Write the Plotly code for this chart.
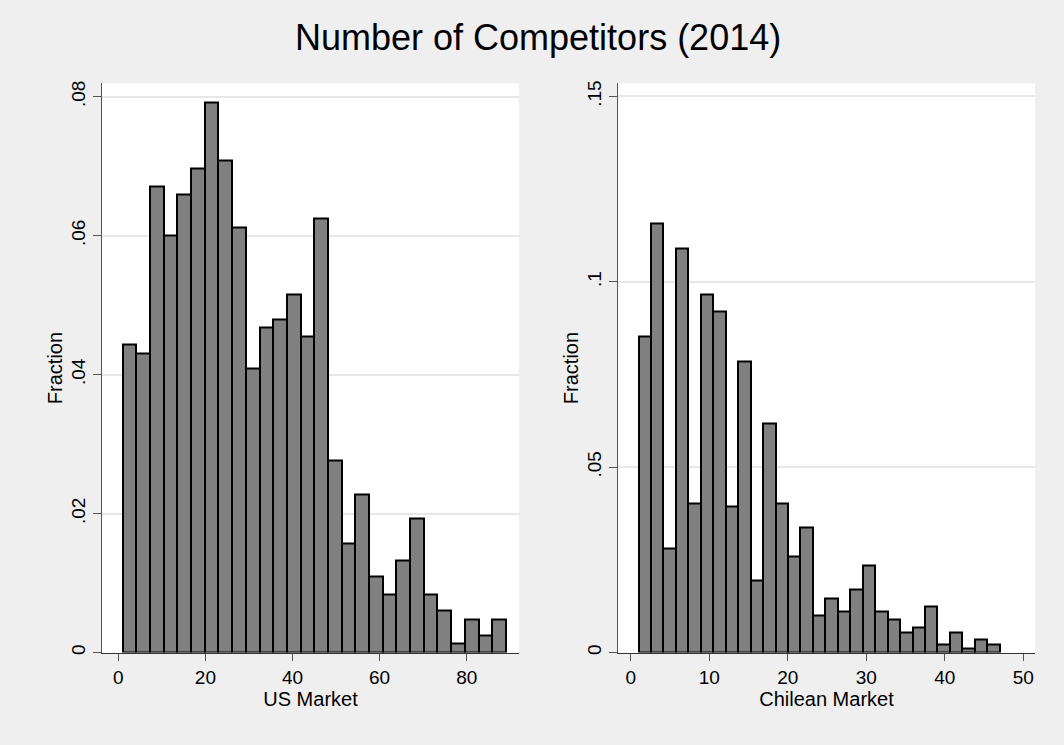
import plotly.graph_objects as go

# Histogram bins: number of competitors, fraction of markets per bin
us_bin_start = 1.0
us_bin_width = 88.0 / 28
us_fraction = [0.0443, 0.0431, 0.0671, 0.0600, 0.0660, 0.0696, 0.0791, 0.0708,
               0.0612, 0.0409, 0.0468, 0.0480, 0.0516, 0.0455, 0.0625, 0.0276,
               0.0157, 0.0227, 0.0109, 0.0084, 0.0132, 0.0193, 0.0084, 0.0060,
               0.0013, 0.0048, 0.0025, 0.0048]

cl_bin_start = 1.0
cl_bin_width = 46.0 / 29
cl_fraction = [0.0854, 0.1157, 0.0281, 0.1089, 0.0403, 0.0966, 0.0921, 0.0393,
               0.0785, 0.0194, 0.0618, 0.0403, 0.0259, 0.0338, 0.0101, 0.0147,
               0.0112, 0.0170, 0.0235, 0.0112, 0.0090, 0.0054, 0.0068, 0.0124,
               0.0023, 0.0054, 0.0012, 0.0036, 0.0023]

us_xticks = [0, 20, 40, 60, 80]
us_yticks = [0, 0.02, 0.04, 0.06, 0.08]
us_ylabels = ["0", ".02", ".04", ".06", ".08"]
cl_xticks = [0, 10, 20, 30, 40, 50]
cl_yticks = [0, 0.05, 0.10, 0.15]
cl_ylabels = ["0", ".05", ".1", ".15"]

FONT = "Arial, Liberation Sans, sans-serif"
W, H = 1064, 745


def centers(start, width, n):
    return [start + width * (i + 0.5) for i in range(n)]


bar_style = dict(color="#808080", line=dict(color="#000000", width=2))

fig = go.Figure()
fig.add_trace(go.Bar(
    x=centers(us_bin_start, us_bin_width, len(us_fraction)), y=us_fraction,
    width=us_bin_width, xaxis="x", yaxis="y", marker=bar_style,
    showlegend=False, hoverinfo="x+y"))
fig.add_trace(go.Bar(
    x=centers(cl_bin_start, cl_bin_width, len(cl_fraction)), y=cl_fraction,
    width=cl_bin_width, xaxis="x2", yaxis="y2", marker=bar_style,
    showlegend=False, hoverinfo="x+y"))

py_top, py_bot = 81, 654
ydom = [1 - py_bot / H, 1 - py_top / H]

xcommon = dict(showgrid=False, zeroline=False, showline=True, linecolor="#333333",
               linewidth=1.3, ticks="outside", ticklen=7, tickcolor="#555555",
               tickwidth=1.2, tickfont=dict(family=FONT, size=19, color="#000000"),
               title_font=dict(family=FONT, size=20, color="#000000"),
               title_standoff=1)
ycommon = dict(showgrid=True, gridcolor="#e8e8e8", gridwidth=1.5, zeroline=False,
               showline=True, linecolor="#555555", linewidth=1.3, ticks="outside",
               ticklen=8, tickcolor="#555555", tickwidth=1.2, tickangle=-90,
               tickfont=dict(family=FONT, size=19, color="#000000"),
               title_font=dict(family=FONT, size=20, color="#000000"),
               title_standoff=0)

fig.update_layout(
    width=W, height=H,
    margin=dict(l=0, r=0, t=0, b=0),
    paper_bgcolor="#efefef", plot_bgcolor="#ffffff",
    bargap=0,
    xaxis=dict(domain=[102 / W, 519 / W], range=[-3.74, 92.0],
               tickvals=us_xticks, title_text="US Market", anchor="y", **xcommon),
    yaxis=dict(domain=ydom, range=[0, 0.0819], tickvals=us_yticks,
               ticktext=us_ylabels, title_text="Fraction", anchor="x", **ycommon),
    xaxis2=dict(domain=[618 / W, 1035 / W], range=[-1.62, 51.49],
                tickvals=cl_xticks, title_text="Chilean Market", anchor="y2",
                **xcommon),
    yaxis2=dict(domain=ydom, range=[0, 0.1535], tickvals=cl_yticks,
                ticktext=cl_ylabels, title_text="Fraction", anchor="x2", **ycommon),
    annotations=[dict(text="Number of Competitors (2014)", xref="paper",
                      yref="paper", x=537.5 / W, y=1 - 35 / H, xanchor="center",
                      yanchor="middle", showarrow=False,
                      font=dict(family=FONT, size=36, color="#000000"))],
)

fig.write_html("out.html")
